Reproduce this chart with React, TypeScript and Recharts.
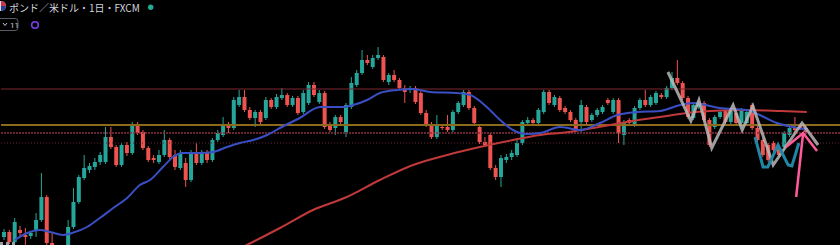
import React from 'react';
import { ComposedChart, Bar, Line, XAxis, YAxis, ReferenceLine } from 'recharts';

// daily candles, [open, high, low, close]
const candles: [number, number, number, number][] = [
  [1.2040, 1.2080, 1.2025, 1.2065], [1.2065, 1.2075, 1.2005, 1.2015], [1.2015, 1.2135, 1.2005, 1.2115],
  [1.2075, 1.2095, 1.2045, 1.2060], [1.2050, 1.2085, 1.2000, 1.2040], [1.2045, 1.2070, 1.2030, 1.2060],
  [1.2075, 1.2160, 1.2040, 1.2125], [1.2125, 1.2360, 1.2115, 1.2240], [1.2240, 1.2250, 1.1985, 1.2010],
  [1.2010, 1.2060, 1.1925, 1.1950], [1.1950, 1.1975, 1.1895, 1.1915], [1.1935, 1.1995, 1.1915, 1.1975],
  [1.1975, 1.2125, 1.1965, 1.2090], [1.2090, 1.2285, 1.2080, 1.2215], [1.2215, 1.2350, 1.2205, 1.2340],
  [1.2335, 1.2450, 1.2325, 1.2385], [1.2375, 1.2410, 1.2360, 1.2395], [1.2390, 1.2435, 1.2375, 1.2415],
  [1.2415, 1.2465, 1.2400, 1.2450], [1.2415, 1.2590, 1.2405, 1.2540], [1.2540, 1.2590, 1.2480, 1.2490],
  [1.2490, 1.2500, 1.2390, 1.2400], [1.2400, 1.2510, 1.2390, 1.2500], [1.2500, 1.2515, 1.2445, 1.2460],
  [1.2460, 1.2615, 1.2450, 1.2600], [1.2600, 1.2615, 1.2550, 1.2560], [1.2565, 1.2575, 1.2475, 1.2485],
  [1.2485, 1.2495, 1.2415, 1.2425], [1.2435, 1.2450, 1.2410, 1.2425], [1.2415, 1.2475, 1.2405, 1.2450],
  [1.2450, 1.2575, 1.2440, 1.2525], [1.2525, 1.2535, 1.2425, 1.2440], [1.2450, 1.2475, 1.2375, 1.2390],
  [1.2385, 1.2475, 1.2375, 1.2460], [1.2410, 1.2435, 1.2290, 1.2325], [1.2325, 1.2475, 1.2315, 1.2460],
  [1.2460, 1.2510, 1.2400, 1.2410], [1.2410, 1.2475, 1.2400, 1.2460], [1.2460, 1.2475, 1.2410, 1.2425],
  [1.2425, 1.2535, 1.2415, 1.2525], [1.2525, 1.2575, 1.2515, 1.2560], [1.2550, 1.2640, 1.2540, 1.2600],
  [1.2600, 1.2615, 1.2560, 1.2585], [1.2585, 1.2740, 1.2575, 1.2725], [1.2700, 1.2775, 1.2690, 1.2740],
  [1.2740, 1.2775, 1.2665, 1.2675], [1.2675, 1.2690, 1.2625, 1.2635], [1.2635, 1.2675, 1.2590, 1.2665],
  [1.2665, 1.2675, 1.2605, 1.2615], [1.2635, 1.2740, 1.2625, 1.2725], [1.2725, 1.2735, 1.2680, 1.2690],
  [1.2690, 1.2755, 1.2680, 1.2740], [1.2735, 1.2785, 1.2725, 1.2750], [1.2750, 1.2760, 1.2690, 1.2700],
  [1.2700, 1.2745, 1.2690, 1.2735], [1.2735, 1.2745, 1.2650, 1.2660], [1.2665, 1.2775, 1.2655, 1.2760],
  [1.2710, 1.2815, 1.2700, 1.2800], [1.2800, 1.2815, 1.2740, 1.2750], [1.2715, 1.2775, 1.2705, 1.2760],
  [1.2760, 1.2770, 1.2580, 1.2590], [1.2600, 1.2615, 1.2565, 1.2575], [1.2585, 1.2650, 1.2550, 1.2640],
  [1.2640, 1.2650, 1.2605, 1.2615], [1.2565, 1.2710, 1.2540, 1.2700], [1.2690, 1.2840, 1.2680, 1.2810],
  [1.2800, 1.2875, 1.2790, 1.2860], [1.2860, 1.2975, 1.2850, 1.2925], [1.2925, 1.2950, 1.2900, 1.2910],
  [1.2890, 1.2950, 1.2880, 1.2935], [1.2935, 1.2990, 1.2925, 1.2950], [1.2940, 1.2950, 1.2815, 1.2825],
  [1.2815, 1.2860, 1.2800, 1.2850], [1.2850, 1.2875, 1.2815, 1.2825], [1.2825, 1.2835, 1.2775, 1.2785],
  [1.2785, 1.2800, 1.2710, 1.2765], [1.2775, 1.2795, 1.2760, 1.2785], [1.2785, 1.2795, 1.2705, 1.2715],
  [1.2760, 1.2770, 1.2650, 1.2660], [1.2660, 1.2675, 1.2590, 1.2600], [1.2600, 1.2615, 1.2530, 1.2540],
  [1.2540, 1.2650, 1.2530, 1.2600], [1.2590, 1.2605, 1.2575, 1.2585], [1.2590, 1.2650, 1.2565, 1.2575],
  [1.2575, 1.2675, 1.2565, 1.2665], [1.2665, 1.2720, 1.2655, 1.2710], [1.2700, 1.2775, 1.2690, 1.2765],
  [1.2765, 1.2775, 1.2675, 1.2685], [1.2685, 1.2695, 1.2600, 1.2610], [1.2590, 1.2600, 1.2505, 1.2515],
  [1.2515, 1.2540, 1.2490, 1.2500], [1.2550, 1.2560, 1.2375, 1.2385], [1.2385, 1.2400, 1.2325, 1.2340],
  [1.2340, 1.2450, 1.2290, 1.2435], [1.2425, 1.2455, 1.2410, 1.2440], [1.2440, 1.2475, 1.2425, 1.2460],
  [1.2450, 1.2525, 1.2440, 1.2510], [1.2510, 1.2625, 1.2500, 1.2615], [1.2610, 1.2640, 1.2595, 1.2625],
  [1.2625, 1.2635, 1.2595, 1.2610], [1.2610, 1.2685, 1.2600, 1.2675], [1.2665, 1.2775, 1.2655, 1.2765],
  [1.2765, 1.2775, 1.2700, 1.2710], [1.2700, 1.2750, 1.2690, 1.2740], [1.2735, 1.2745, 1.2665, 1.2675],
  [1.2685, 1.2695, 1.2655, 1.2665], [1.2665, 1.2675, 1.2615, 1.2625], [1.2625, 1.2635, 1.2565, 1.2575],
  [1.2615, 1.2725, 1.2565, 1.2700], [1.2690, 1.2700, 1.2605, 1.2615], [1.2625, 1.2660, 1.2615, 1.2650],
  [1.2650, 1.2685, 1.2640, 1.2675], [1.2665, 1.2700, 1.2655, 1.2690], [1.2725, 1.2735, 1.2700, 1.2710],
  [1.2665, 1.2735, 1.2655, 1.2725], [1.2725, 1.2735, 1.2510, 1.2560], [1.2550, 1.2625, 1.2500, 1.2615],
  [1.2625, 1.2635, 1.2600, 1.2610], [1.2600, 1.2695, 1.2590, 1.2685], [1.2685, 1.2735, 1.2675, 1.2725],
  [1.2725, 1.2775, 1.2690, 1.2700], [1.2700, 1.2750, 1.2690, 1.2740], [1.2710, 1.2770, 1.2700, 1.2760],
  [1.2750, 1.2760, 1.2730, 1.2740], [1.2740, 1.2795, 1.2730, 1.2785], [1.2785, 1.2865, 1.2775, 1.2835],
  [1.2835, 1.2925, 1.2800, 1.2810], [1.2810, 1.2820, 1.2725, 1.2735], [1.2735, 1.2745, 1.2630, 1.2640],
  [1.2635, 1.2710, 1.2625, 1.2700], [1.2690, 1.2720, 1.2680, 1.2710], [1.2710, 1.2720, 1.2615, 1.2625],
  [1.2625, 1.2635, 1.2490, 1.2500], [1.2590, 1.2650, 1.2580, 1.2640], [1.2640, 1.2675, 1.2630, 1.2665],
  [1.2675, 1.2685, 1.2605, 1.2615], [1.2615, 1.2685, 1.2605, 1.2675], [1.2660, 1.2670, 1.2600, 1.2610],
  [1.2610, 1.2685, 1.2600, 1.2675], [1.2610, 1.2675, 1.2600, 1.2665], [1.2700, 1.2710, 1.2575, 1.2585],
  [1.2585, 1.2595, 1.2515, 1.2525], [1.2525, 1.2535, 1.2440, 1.2450], [1.2500, 1.2510, 1.2415, 1.2425],
  [1.2510, 1.2520, 1.2465, 1.2475], [1.2490, 1.2500, 1.2440, 1.2450], [1.2490, 1.2570, 1.2480, 1.2560],
  [1.2550, 1.2595, 1.2540, 1.2585], [1.2590, 1.2640, 1.2565, 1.2575], [1.2600, 1.2610, 1.2575, 1.2585],
  [1.2585, 1.2595, 1.2555, 1.2565],
];

// empty slots to the right of the last candle
const SLOTS = 157;

// moving averages, [bar index, price]
const maShort: [number, number][] = [
  [2.1, 1.2025], [4.4, 1.2060], [6.8, 1.2075], [8.7, 1.2065], [11.1, 1.2050], [12.8, 1.2060],
  [15.6, 1.2090], [18.0, 1.2135], [20.5, 1.2185], [23.1, 1.2235], [25.5, 1.2300], [27.4, 1.2325],
  [29.8, 1.2390], [31.7, 1.2440], [33.4, 1.2460], [36.7, 1.2460], [39.2, 1.2465], [41.8, 1.2490],
  [44.2, 1.2510], [46.7, 1.2525], [49.3, 1.2550], [51.7, 1.2585], [55.4, 1.2635], [59.2, 1.2690],
  [63.5, 1.2690], [65.4, 1.2700], [68.0, 1.2725], [70.4, 1.2760], [73.6, 1.2775], [76.6, 1.2780],
  [79.8, 1.2765], [84.8, 1.2760], [87.3, 1.2750], [90.4, 1.2690], [92.9, 1.2625], [95.3, 1.2575],
  [97.9, 1.2555], [100.4, 1.2560], [104.1, 1.2590], [107.9, 1.2575], [111.6, 1.2610], [114.8, 1.2650],
  [118.5, 1.2665], [122.8, 1.2670], [126.6, 1.2700], [129.0, 1.2710], [134.0, 1.2685], [139.1, 1.2675],
  [141.5, 1.2650], [144.7, 1.2610], [147.7, 1.2590], [150.5, 1.2575],
];

const maLong: [number, number][] = [
  [40.5, 1.1935], [45.5, 1.2000], [51.7, 1.2085], [57.9, 1.2175], [64.2, 1.2240], [70.4, 1.2325],
  [76.6, 1.2400], [83.0, 1.2450], [89.1, 1.2490], [95.3, 1.2525], [101.7, 1.2555], [104.1, 1.2560],
  [110.3, 1.2585], [116.6, 1.2615], [122.8, 1.2640], [127.9, 1.2660], [132.2, 1.2670], [138.4, 1.2675],
  [144.7, 1.2670], [150.3, 1.2665],
];

// horizontal levels
const levels = [1.2780, 1.2600, 1.2560, 1.2510];

// hand drawn annotations, [bar index, price]
const grayWave: [number, number][] = [
  [124.3, 1.2865], [128.6, 1.2620], [130.1, 1.2725], [132.5, 1.2485], [136.5, 1.2700],
  [138.2, 1.2575], [140.2, 1.2695], [144.0, 1.2400], [149.4, 1.2610], [152.4, 1.2500],
];
const tealWave: [number, number][] = [
  [140.6, 1.2540], [142.1, 1.2390], [143.0, 1.2390], [144.9, 1.2500], [146.8, 1.2400],
  [147.5, 1.2395], [148.8, 1.2510],
];
const arrowShaft: [number, number][] = [[148.3, 1.2240], [149.6, 1.2560]];
const arrowHead: [number, number][] = [[146.4, 1.2490], [149.6, 1.2560], [152.2, 1.2470]];

const UP = '#26a69a';
const DOWN = '#ef5350';

const data = Array.from({ length: SLOTS }, (_, i) => {
  const k = candles[i];
  if (!k) return { i, range: null };
  return { i, o: k[0], h: k[1], l: k[2], c: k[3], range: [k[2], k[1]] };
});

const toPts = (arr: [number, number][]) => arr.map(([x, p]) => ({ x, p }));

const Candle = (props: any) => {
  const { x, y, width, height, payload } = props;
  if (!payload || payload.o == null) return null;
  const { o, h, l, c } = payload;
  const top = Math.min(y, y + height);
  const span = Math.abs(height);
  const toY = (v: number) => (h === l ? top : top + ((h - v) / (h - l)) * span);
  const color = c >= o ? UP : DOWN;
  const cx = x + width / 2;
  const bodyTop = toY(Math.max(o, c));
  const bodyH = Math.max(1, toY(Math.min(o, c)) - bodyTop);
  return (
    <g>
      <line x1={cx} x2={cx} y1={top} y2={top + span} stroke={color} strokeWidth={1} />
      <rect x={x} y={bodyTop} width={width} height={bodyH} fill={color} />
    </g>
  );
};

const App = () => {
  return (
    <div style={{ position: 'absolute', left: 0, top: 0, width: 840, height: 245, background: '#000', overflow: 'hidden' }}>
      <ComposedChart width={840} height={245} data={data} margin={{ top: 0, right: 0, bottom: 0, left: 1 }}>
        <XAxis xAxisId="cat" dataKey="i" type="category" hide />
        <XAxis xAxisId="num" dataKey="x" type="number" domain={[-0.5, SLOTS - 0.5]} allowDataOverflow hide />
        <YAxis domain={[1.2, 1.3225]} allowDataOverflow hide />

        <ReferenceLine xAxisId="cat" y={levels[0]} stroke="#7d2833" strokeWidth={1} />
        <ReferenceLine xAxisId="cat" y={levels[1]} stroke="#8c6a1c" strokeWidth={2} />
        <ReferenceLine xAxisId="cat" y={levels[2]} stroke="#8a3040" strokeWidth={1.5} strokeDasharray="2 1" />
        <ReferenceLine xAxisId="cat" y={levels[3]} stroke="#6a2430" strokeWidth={1} strokeDasharray="1 2" />

        <Bar xAxisId="cat" dataKey="range" barSize={4} shape={<Candle />} isAnimationActive={false} />

        <Line xAxisId="num" data={toPts(maLong)} dataKey="p" type="monotone" stroke="#c0393b" strokeWidth={2} dot={false} isAnimationActive={false} />
        <Line xAxisId="num" data={toPts(maShort)} dataKey="p" type="monotone" stroke="#3a4fc4" strokeWidth={2} dot={false} isAnimationActive={false} />

        <Line xAxisId="num" data={toPts(grayWave)} dataKey="p" type="linear" stroke="#b8b8b8" strokeOpacity={0.85} strokeWidth={3} dot={false} isAnimationActive={false} />
        <Line xAxisId="num" data={toPts(tealWave)} dataKey="p" type="linear" stroke="#1f86a6" strokeWidth={3} dot={false} isAnimationActive={false} />
        <Line xAxisId="num" data={toPts(arrowShaft)} dataKey="p" type="linear" stroke="#ff5a9a" strokeWidth={2.5} dot={false} isAnimationActive={false} />
        <Line xAxisId="num" data={toPts(arrowHead)} dataKey="p" type="linear" stroke="#ff5a9a" strokeWidth={2.5} dot={false} isAnimationActive={false} />
      </ComposedChart>

      {/* legend header */}
      <svg width={200} height={40} style={{ position: 'absolute', left: 0, top: 0 }}>
        <circle cx={1} cy={6} r={5} fill="#d9dbe8" />
        <path d="M1 1 A5 5 0 0 1 6 6 L1 6 Z" fill="#c8364a" />
        <path d="M1 6 L6 6 A5 5 0 0 1 1 11 Z" fill="#2b3f8f" />
        <circle cx={150.7} cy={7.3} r={2.7} fill="#22ab94" />
        <rect x={-6} y={18.5} width={24} height={12} rx={3} fill="none" stroke="#5a5d66" strokeWidth={1} />
        <path d="M3 23 L5 25.5 L7 23" fill="none" stroke="#c9cbd2" strokeWidth={1} />
        <text x={10} y={27.5} fontSize={8} fill="#c9cbd2" fontFamily="Roboto">11</text>
        <circle cx={35} cy={25} r={3.3} fill="none" stroke="#7b3ff2" strokeWidth={1.6} />
      </svg>
      <div
        style={{
          position: 'absolute',
          left: 9,
          top: 0,
          fontFamily: '"Noto Sans CJK JP", sans-serif',
          fontSize: 10,
          lineHeight: '15px',
          color: '#d1d4dc',
          whiteSpace: 'nowrap',
        }}
      >
        ポンド／米ドル・1日・FXCM
      </div>
      <div style={{ position: 'absolute', left: 0, top: 242, width: 15, borderTop: '3px dotted #9a9ca3' }} />
    </div>
  );
};

export default App;
